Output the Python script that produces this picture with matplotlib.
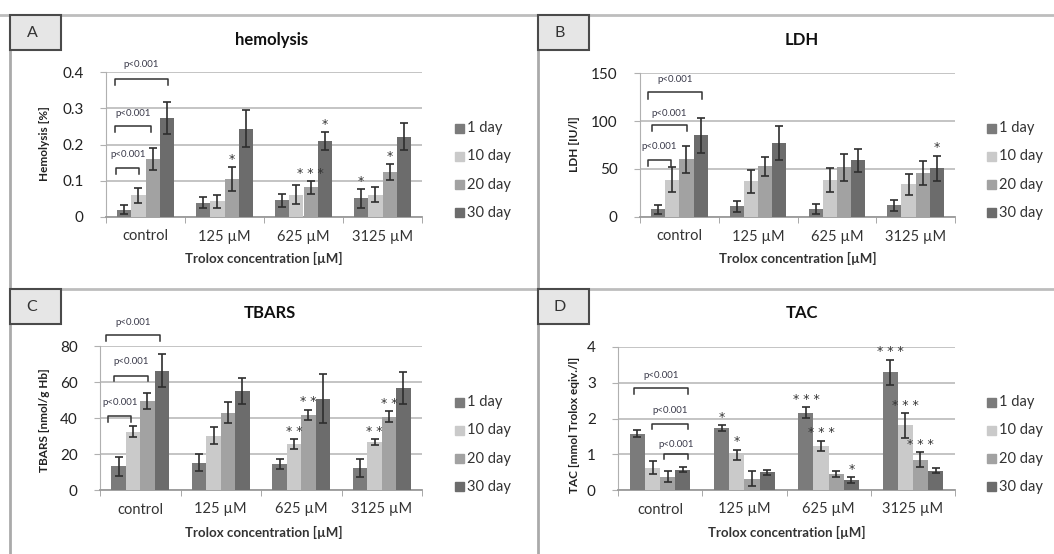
import numpy as np
import matplotlib
matplotlib.use('Agg')
import matplotlib.pyplot as plt
from matplotlib.patches import Rectangle
from matplotlib.lines import Line2D

plt.rcParams['font.family'] = ['Lato', 'DejaVu Sans']

groups = ['control', '125 µM', '625 µM', '3125 µM']
days = ['1 day', '10 day', '20 day', '30 day']
colors = ['#7b7b7b', '#cacaca', '#a2a2a2', '#6c6c6c']

# means [group][day] and errors
hemo = [[0.020, 0.060, 0.159, 0.274],
        [0.040, 0.043, 0.104, 0.244],
        [0.046, 0.062, 0.082, 0.210],
        [0.052, 0.062, 0.124, 0.222]]
hemo_err = [[0.012, 0.020, 0.030, 0.044],
            [0.014, 0.018, 0.033, 0.050],
            [0.018, 0.025, 0.018, 0.025],
            [0.026, 0.020, 0.021, 0.037]]

ldh = [[8, 39, 60, 85],
       [11, 37, 53, 77],
       [8.3, 38.5, 52, 59],
       [12, 34, 46, 51]]
ldh_err = [[5, 13, 14, 18.5],
           [6, 12, 10, 17.5],
           [5, 12.7, 14, 11.7],
           [6, 10.7, 12.5, 13]]

tbars = [[13.3, 32.4, 49.6, 66.3],
         [15.2, 30.2, 43.0, 55.0],
         [14.6, 25.4, 41.7, 50.7],
         [12.2, 26.5, 40.7, 56.7]]
tbars_err = [[5.3, 3.2, 4.4, 9.3],
             [4.7, 4.7, 6.0, 7.4],
             [2.9, 2.8, 3.0, 13.5],
             [4.8, 1.6, 3.0, 9.0]]

tac = [[1.58, 0.62, 0.37, 0.56],
       [1.74, 0.98, 0.31, 0.49],
       [2.16, 1.24, 0.44, 0.28],
       [3.30, 1.81, 0.84, 0.54]]
tac_err = [[0.09, 0.18, 0.15, 0.07],
           [0.08, 0.15, 0.21, 0.07],
           [0.15, 0.14, 0.08, 0.08],
           [0.35, 0.35, 0.21, 0.07]]

# significance marks: (group, day, text)
hemo_stars = [(1, 2, '*'), (2, 2, '* * *'), (2, 3, '*'), (3, 0, '*'), (3, 2, '*')]
ldh_stars = [(3, 3, '*')]
tbars_stars = [(2, 1, '* *'), (2, 2, '* *'), (3, 1, '* *'), (3, 2, '* *')]
tac_stars = [(1, 0, '*'), (1, 1, '*'), (2, 0, '* * *'), (2, 1, '* * *'), (2, 3, '*'),
             (3, 0, '* * *'), (3, 1, '* * *'), (3, 2, '* * *')]

W, H = 1054, 554
fig = plt.figure(figsize=(W / 100, H / 100), dpi=100)


def box(l, r, top, bot):
    return [l / W, 1 - bot / H, (r - l) / W, (bot - top) / H]


def fx(x):
    return x / W


def fy(y):
    return 1 - y / H


# panel frame lines
line_c = '#bdbdbd'
fig.add_artist(Line2D([0, 1], [fy(15), fy(15)], color=line_c, lw=2))
fig.add_artist(Line2D([fx(10), 1], [fy(289), fy(289)], color=line_c, lw=2))
fig.add_artist(Line2D([fx(10), fx(10)], [fy(15), 0], color='#aaaaaa', lw=2))
fig.add_artist(Line2D([fx(538), fx(538)], [fy(15), 0], color='#aaaaaa', lw=2))

bw = 0.18
offs = (np.arange(4) - 1.5) * bw


def panel(rect, vals, errs, ylim, yticks, ytl, title, ylabel, title_xy, ylab_xy, xlab_xy,
          leg_x, leg_y, letter, letter_xy, brackets, stars):
    ax = fig.add_axes(rect)
    vals = np.array(vals)
    errs = np.array(errs)
    x = np.arange(len(groups))
    for d in range(4):
        ax.bar(x + offs[d], vals[:, d], bw, color=colors[d], zorder=3)
        ax.errorbar(x + offs[d], vals[:, d], yerr=errs[:, d], fmt='none',
                    ecolor='#2e2e2e', elinewidth=1.2, capsize=3.2, capthick=1.2, zorder=4)
    ax.set_xlim(-0.5, 3.5)
    ax.set_ylim(*ylim)
    ax.set_yticks(yticks)
    ax.set_yticklabels(ytl, fontsize=11)
    ax.grid(axis='y', color='#bfbfbf', lw=1.3, zorder=0)
    for s in ['top', 'right']:
        ax.spines[s].set_visible(False)
    ax.spines['left'].set_color('#b0b0b0')
    ax.spines['bottom'].set_color('#9a9a9a')
    ax.spines['bottom'].set_linewidth(1.3)
    ax.set_xticks(x)
    ax.set_xticklabels(groups, fontsize=10.5, color='#333333')
    ax.set_xticks(np.arange(-0.5, 4, 1), minor=True)
    ax.tick_params(axis='x', which='major', length=0, pad=9)
    ax.tick_params(axis='x', which='minor', length=4, color='#9a9a9a')
    ax.tick_params(axis='y', length=4, color='#b0b0b0', pad=12, labelcolor='#222222')

    for x0, x1, yb, drop, ylab, lab in brackets:
        ax.plot([x0, x0, x1, x1], [yb - drop, yb, yb, yb - drop], color='#333333',
                lw=1.1, clip_on=False, zorder=5)
        ax.text((x0 + x1) / 2, ylab, lab, fontsize=7, color='#3a3a4a',
                ha='center', va='center', clip_on=False)

    for g, d, t in stars:
        ax.annotate(t, (g + offs[d], vals[g, d] + errs[g, d]), xytext=(0, 3),
                    textcoords='offset points', ha='center', va='baseline',
                    fontsize=9, family='DejaVu Sans', color='#333333',
                    annotation_clip=False)

    fig.text(fx(title_xy[0]), fy(title_xy[1]), title, fontsize=12, fontweight='bold',
             ha='center', va='center', color='#111111')
    fig.text(fx(ylab_xy[0]), fy(ylab_xy[1]), ylabel, fontsize=8.5, fontweight='bold',
             rotation=90, ha='center', va='center', color='#222222')
    fig.text(fx(xlab_xy[0]), fy(xlab_xy[1]), 'Trolox concentration [µM]', fontsize=9.5,
             fontweight='bold', ha='center', va='center', color='#333333')

    for d in range(4):
        yy = leg_y + 28.3 * d
        fig.add_artist(Rectangle((fx(leg_x), fy(yy + 4.5)), 9 / W, 9 / H,
                                 transform=fig.transFigure, color=colors[d]))
        fig.text(fx(leg_x + 12), fy(yy), days[d], fontsize=10.5, ha='left', va='center',
                 color='#333333')

    lx, ly = letter_xy
    fig.add_artist(Rectangle((fx(lx), fy(ly + 35)), 51 / W, 35 / H, transform=fig.transFigure,
                             facecolor='#e6e6e6', edgecolor='#4a4a4a', lw=1.5, zorder=10))
    fig.text(fx(lx + 22), fy(ly + 18), letter, fontsize=11.5, ha='center', va='center',
             color='#333333', zorder=11)
    return ax


panel(box(106, 422, 72, 217), hemo, hemo_err, (0, 0.4), [0, 0.1, 0.2, 0.3, 0.4],
      ['0', '0.1', '0.2', '0.3', '0.4'], 'hemolysis', 'Hemolysis [%]',
      (272, 40), (45, 144), (264, 258), 455, 128, 'A', (10, 15),
      [(-0.37, -0.08, 0.135, 0.015, 0.172, 'p<0.001'),
       (-0.38, 0.07, 0.250, 0.016, 0.285, 'p<0.001'),
       (-0.38, 0.28, 0.382, 0.019, 0.420, 'p<0.001')],
      hemo_stars)

panel(box(640, 955, 73, 217), ldh, ldh_err, (0, 150), [0, 50, 100, 150],
      ['0', '50', '100', '150'], 'LDH', 'LDH [IU/l]',
      (802, 40), (575, 144), (798, 258), 987, 128, 'B', (538, 15),
      [(-0.40, -0.11, 59, 6, 73, 'p<0.001'),
       (-0.35, 0.10, 95.5, 6, 107.6, 'p<0.001'),
       (-0.40, 0.29, 130, 7, 143, 'p<0.001')],
      ldh_stars)

panel(box(100, 422, 346, 490), tbars, tbars_err, (0, 80), [0, 20, 40, 60, 80],
      ['0', '20', '40', '60', '80'], 'TBARS', 'TBARS [nmol/g Hb]',
      (270, 313), (45, 420), (264, 532), 455, 402, 'C', (10, 289),
      [(-0.40, -0.11, 41.1, 3.1, 48.5, 'p<0.001'),
       (-0.33, 0.10, 63.3, 2.6, 71.3, 'p<0.001'),
       (-0.42, 0.24, 86.1, 3.3, 93.0, 'p<0.001')],
      tbars_stars)

panel(box(618, 955, 347, 490), tac, tac_err, (0, 4), [0, 1, 2, 3, 4],
      ['0', '1', '2', '3', '4'], 'TAC', 'TAC [mmol Trolox eqiv./l]',
      (802, 313), (575, 425), (787, 532), 987, 402, 'D', (538, 289),
      [(-0.31, 0.33, 2.84, 0.16, 3.19, 'p<0.001'),
       (-0.10, 0.33, 1.86, 0.16, 2.23, 'p<0.001'),
       (0.05, 0.33, 1.02, 0.16, 1.28, 'p<0.001')],
      tac_stars)

fig.savefig('out.png', dpi=100)
